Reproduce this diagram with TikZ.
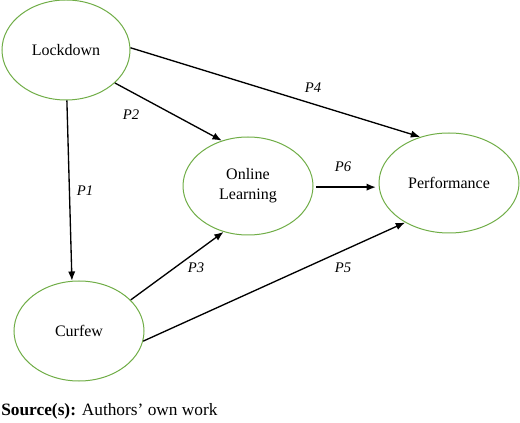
\documentclass[tikz,border=0pt]{standalone}
\usepackage{fontspec}
\setmainfont{Liberation Serif}
\usetikzlibrary{shapes.geometric,arrows.meta}
\definecolor{ellgreen}{RGB}{112,173,71}

\begin{document}
\begin{tikzpicture}[x=0.75pt,y=-0.75pt,
        construct/.style={ellipse,draw=ellgreen,line width=0.75pt,inner sep=0pt,align=center,font=\fontsize{12}{15}\selectfont},
        link/.style={-{Latex[length=7pt,width=5.5pt]},line width=1pt},
        plabel/.style={font=\fontsize{11}{13}\selectfont\itshape}]
        \useasboundingbox (0,0) rectangle (520,423);
        \node[construct,minimum width=96pt,minimum height=75pt]     (lock)   at (66,50)   {Lockdown};
        \node[construct,minimum width=97.5pt,minimum height=73.5pt] (online) at (248,186)  {Online\\Learning};
        \node[construct,minimum width=105pt,minimum height=75pt]    (perf)   at (449,183)  {Performance};
        \node[construct,minimum width=97.5pt,minimum height=75pt]   (curf)   at (79,331)   {Curfew};
        \node[plabel]   (p1)    at (85,191)     {P1};
        \node[plabel]   (p2)    at (131,115)    {P2};
        \node[plabel]   (p3)    at (196,268)    {P3};
        \node[plabel]   (p4)    at (313,88)     {P4};
        \node[plabel]   (p5)    at (343,268)    {P5};
        \node[plabel]   (p6)    at (343,167)    {P6};
        \node[anchor=base west,inner sep=0pt,font=\fontsize{13}{15}\selectfont] (src) at (1,415) {\textbf{Source(s):} Authors' own work};
        \draw[link] (lock.-89) -- (curf.98);
        \draw[link] (lock.-34) -- (online.120);
        \draw[link] (lock.2) -- (perf.122);
        \draw[link,shorten <=2pt,shorten >=2pt] (online.-1) -- (online.-1 -| perf.west);
        \draw[link] (curf.31) -- (online.242);
        \draw[link] (curf.-9) -- (perf.222);
    \end{tikzpicture}
\end{document}
